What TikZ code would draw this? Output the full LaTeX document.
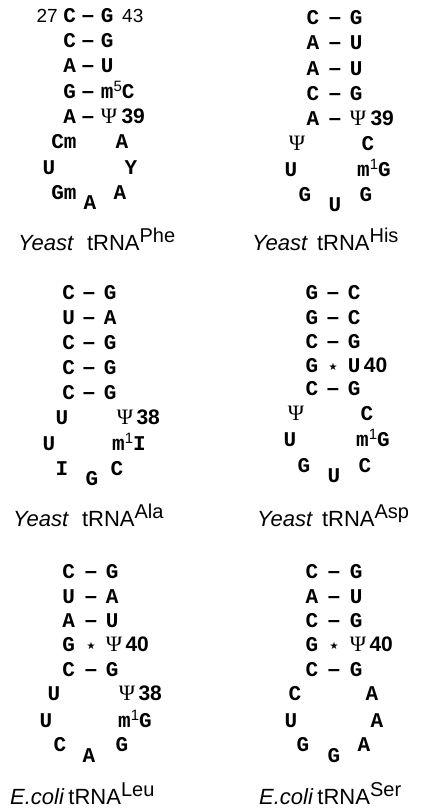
\documentclass[tikz,border=0pt]{standalone}
\usepackage{fontspec}
\setmainfont{Liberation Sans}
\newfontfamily\basefnt{Liberation Mono}
\newfontfamily\psifnt{Liberation Serif}
\newfontfamily\symfnt{DejaVu Sans}
\newcommand{\basestyle}{\basefnt\bfseries\fontsize{21}{21}\selectfont}
\newcommand{\bondstyle}{\normalfont\bfseries\fontsize{22}{22}\selectfont}
\newcommand{\numstyle}{\normalfont\fontsize{19}{19}\selectfont}
\newcommand{\bnumstyle}{\normalfont\bfseries\fontsize{21}{21}\selectfont}
\newcommand{\titlestyle}{\normalfont\fontsize{22}{22}\selectfont}
\newcommand{\psiglyph}{{\psifnt\mdseries\fontsize{22}{22}\selectfont Ψ}}
\newcommand{\stargl}{\raisebox{2pt}{\symfnt\mdseries\fontsize{10}{10}\selectfont ★}}
\newcommand{\supdig}[1]{\raisebox{6.5pt}{\normalfont\fontsize{15}{15}\selectfont #1}}
\newcommand{\tsup}[1]{\raisebox{8pt}{\fontsize{20}{20}\selectfont #1}}
% #1 name, #2 baseline y, #3 xL, #4 xD, #5 xR, #6 left, #7 mid, #8 right
\newcommand{\bpair}[8]{%
  \node[base,anchor=base east] (#1l) at ({#3+6.3},#2) {#6};
  \node[bond] (#1d) at (#4,#2) {#7};
  \node[base,anchor=base west] (#1r) at ({#5-6.3},#2) {#8};}
\tikzset{
  base/.style={font=\basestyle, inner sep=0pt, anchor=base},
  bond/.style={font=\bondstyle, inner sep=0pt, anchor=base},
  num/.style={font=\numstyle, inner sep=0pt},
  bnum/.style={font=\bnumstyle, inner sep=0pt, anchor=base west},
  title/.style={font=\titlestyle, inner sep=0pt, anchor=base west}
}
\begin{document}
\begin{tikzpicture}[x=1pt,y=-1pt]
\useasboundingbox (0,0) rectangle (428,808);
% ---------- Panel 1: Yeast tRNA Phe ----------
\node[num,anchor=base east] (p1n27) at (58,23) {27};
\bpair{p1a}{23}{70}{88}{107}{C}{–}{G}
\node[num,anchor=base west] (p1n43) at (122,23) {43};
\bpair{p1b}{48}{70}{88}{107}{C}{–}{G}
\bpair{p1c}{73}{70}{88}{107}{A}{–}{U}
\bpair{p1d}{98}{70}{88}{107}{G}{–}{m\supdig{5}C}
\bpair{p1e}{123}{70}{88}{107}{A}{–}{\psiglyph}
\node[bnum] (p1n39) at ([xshift=4pt]p1er.base east) {39};
\node[base] (p1l1) at (64,148) {Cm};
\node[base] (p1r1) at (122,148) {A};
\node[base] (p1l2) at (49,174) {U};
\node[base] (p1r2) at (131,174) {Y};
\node[base] (p1l3) at (64,199) {Gm};
\node[base] (p1bt) at (90,209) {A};
\node[base] (p1r3) at (120,199) {A};
\node[title] (p1t) at (18,250) {\textit{Yeast}\hspace{13pt}tRNA\tsup{Phe}};
% ---------- Panel 2: Yeast tRNA His ----------
\bpair{p2a}{25}{313}{335}{356}{C}{–}{G}
\bpair{p2b}{50}{313}{335}{356}{A}{–}{U}
\bpair{p2c}{75}{313}{335}{356}{A}{–}{U}
\bpair{p2d}{100}{313}{335}{356}{C}{–}{G}
\bpair{p2e}{125}{313}{335}{356}{A}{–}{\psiglyph}
\node[bnum] (p2n39) at ([xshift=4pt]p2er.base east) {39};
\node[base] (p2l1) at (297,150) {\psiglyph};
\node[base] (p2r1) at (368,150) {C};
\node[base] (p2l2) at (291,176) {U};
\node[base,anchor=base west] (p2r2) at (357,176) {m\supdig{1}G};
\node[base] (p2l3) at (305,201) {G};
\node[base] (p2bt) at (335,211) {U};
\node[base] (p2r3) at (366,201) {G};
\node[title] (p2t) at (252,250) {\textit{Yeast}\hspace{9pt}tRNA\tsup{His}};
% ---------- Panel 3: Yeast tRNA Ala ----------
\bpair{p3a}{299}{69}{89}{110}{C}{–}{G}
\bpair{p3b}{324}{69}{89}{110}{U}{–}{A}
\bpair{p3c}{349}{69}{89}{110}{C}{–}{G}
\bpair{p3d}{374}{69}{89}{110}{C}{–}{G}
\bpair{p3e}{399}{69}{89}{110}{C}{–}{G}
\node[base] (p3l1) at (62,424) {U};
\node[base] (p3r1) at (125,424) {\psiglyph};
\node[bnum] (p3n38) at ([xshift=3pt]p3r1.base east) {38};
\node[base] (p3l2) at (49,450) {U};
\node[base,anchor=base west] (p3r2) at (112,450) {m\supdig{1}I};
\node[base] (p3l3) at (62,475) {I};
\node[base] (p3bt) at (92,485) {G};
\node[base] (p3r3) at (117,475) {C};
\node[title] (p3t) at (13,526) {\textit{Yeast}\hspace{13pt}tRNA\tsup{Ala}};
% ---------- Panel 4: Yeast tRNA Asp ----------
\bpair{p4a}{299}{312}{333}{354}{G}{–}{C}
\bpair{p4b}{324}{312}{333}{354}{G}{–}{C}
\bpair{p4c}{348}{312}{333}{354}{C}{–}{G}
\bpair{p4d}{372}{312}{333}{354}{G}{\stargl}{U}
\node[bnum] (p4n40) at ([xshift=3pt]p4dr.base east) {40};
\bpair{p4e}{395}{312}{333}{354}{C}{–}{G}
\node[base] (p4l1) at (296,420) {\psiglyph};
\node[base] (p4r1) at (367,420) {C};
\node[base] (p4l2) at (290,446) {U};
\node[base,anchor=base west] (p4r2) at (356,446) {m\supdig{1}G};
\node[base] (p4l3) at (304,472) {G};
\node[base] (p4bt) at (334,482) {U};
\node[base] (p4r3) at (365,472) {C};
\node[title] (p4t) at (257,526) {\textit{Yeast}\hspace{9pt}tRNA\tsup{Asp}};
% ---------- Panel 5: E.coli tRNA Leu ----------
\bpair{p5a}{578}{69}{91}{112}{C}{–}{G}
\bpair{p5b}{603}{69}{91}{112}{U}{–}{A}
\bpair{p5c}{627}{69}{91}{112}{A}{–}{U}
\bpair{p5d}{651}{69}{91}{112}{G}{\stargl}{\psiglyph}
\node[bnum] (p5n40) at ([xshift=3pt]p5dr.base east) {40};
\bpair{p5e}{676}{69}{91}{112}{C}{–}{G}
\node[base] (p5l1) at (54,700) {U};
\node[base] (p5r1) at (127,700) {\psiglyph};
\node[bnum] (p5n38) at ([xshift=3pt]p5r1.base east) {38};
\node[base] (p5l2) at (46,727) {U};
\node[base,anchor=base west] (p5r2) at (118,727) {m\supdig{1}G};
\node[base] (p5l3) at (60,751) {C};
\node[base] (p5bt) at (89,762) {A};
\node[base] (p5r3) at (122,751) {G};
\node[title] (p5t) at (10,804) {\textit{E.coli}\hspace{4pt}tRNA\tsup{Leu}};
% ---------- Panel 6: E.coli tRNA Ser ----------
\bpair{p6a}{578}{312}{334}{356}{C}{–}{G}
\bpair{p6b}{603}{312}{334}{356}{A}{–}{U}
\bpair{p6c}{627}{312}{334}{356}{C}{–}{G}
\bpair{p6d}{651}{312}{334}{356}{G}{\stargl}{\psiglyph}
\node[bnum] (p6n40) at ([xshift=3pt]p6dr.base east) {40};
\bpair{p6e}{676}{312}{334}{356}{C}{–}{G}
\node[base] (p6l1) at (295,700) {C};
\node[base] (p6r1) at (372,700) {A};
\node[base] (p6l2) at (291,727) {U};
\node[base] (p6r2) at (377,727) {A};
\node[base] (p6l3) at (303,751) {G};
\node[base] (p6bt) at (334,762) {G};
\node[base] (p6r3) at (364,751) {A};
\node[title] (p6t) at (259,804) {\textit{E.coli}\hspace{4pt}tRNA\tsup{Ser}};
\end{tikzpicture}
\end{document}
